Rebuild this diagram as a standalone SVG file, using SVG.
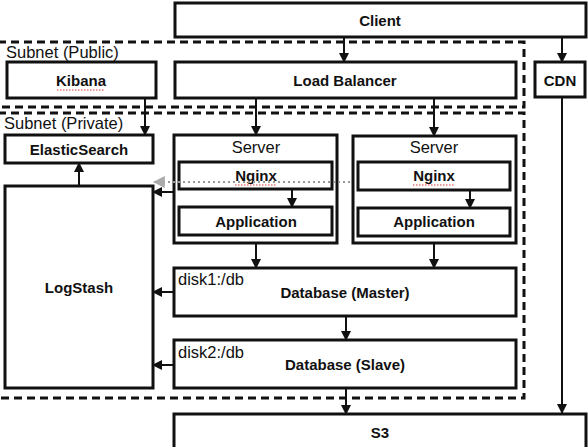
<svg xmlns="http://www.w3.org/2000/svg" width="588" height="447" viewBox="0 0 588 447">
<style>
.box{fill:#fff;stroke:#111;stroke-width:3}
.sub{fill:none;stroke:#111;stroke-width:3;stroke-dasharray:8 5}
.t{font-family:"Liberation Sans",Arial,sans-serif;font-size:15px;font-weight:bold;fill:#111;text-anchor:middle}
.r{font-family:"Liberation Sans",Arial,sans-serif;font-size:16.5px;fill:#111}
.c{stroke:#111;stroke-width:2;fill:none;marker-end:url(#ah)}
.sq{stroke:#d33;stroke-width:1.2;stroke-dasharray:1.5 1.5;fill:none}
</style>
<defs>
<marker id="ah" viewBox="0 0 10 10" refX="9" refY="5" markerWidth="5" markerHeight="5" orient="auto" markerUnits="strokeWidth"><path d="M0,0 L10,5 L0,10 z" fill="#111"/></marker>
<marker id="ahg" viewBox="0 0 10 10" refX="9" refY="5" markerWidth="6" markerHeight="6" orient="auto" markerUnits="strokeWidth"><path d="M0,0 L10,5 L0,10 z" fill="#aaa"/></marker>
</defs>
<rect width="588" height="447" fill="#fff"/>
<g id="subnet-public">
<rect class="sub" x="-2" y="42" width="526" height="65"/>
<text class="r" x="6" y="58">Subnet (Public)</text>
</g>
<g id="subnet-private">
<rect class="sub" x="-2" y="113" width="526" height="285"/>
<text class="r" x="4" y="129">Subnet (Private)</text>
</g>
<g id="client"><rect class="box" x="175" y="3" width="411" height="34"/><text class="t" x="380" y="26">Client</text></g>
<g id="kibana"><rect class="box" x="7" y="62" width="149" height="36"/><text class="t" x="81" y="86">Kibana</text><path class="sq" d="M57,90 H105"/></g>
<g id="load-balancer"><rect class="box" x="175" y="62" width="341" height="36"/><text class="t" x="345" y="86">Load Balancer</text></g>
<g id="cdn"><rect class="box" x="535" y="62" width="50" height="35"/><text class="t" x="560" y="86">CDN</text></g>
<g id="elasticsearch"><rect class="box" x="5" y="135" width="148" height="28"/><text class="t" x="79" y="155">ElasticSearch</text></g>
<g id="logstash"><rect class="box" x="5" y="186" width="148" height="202"/><text class="t" x="79" y="293">LogStash</text></g>
<g id="server1">
<rect class="box" x="174" y="135" width="163" height="108"/>
<text class="r" x="256" y="153" text-anchor="middle">Server</text>
<rect class="box" x="179" y="162" width="153" height="27"/><text class="t" x="256" y="181">Nginx</text><path class="sq" d="M235,185 H277"/>
<rect class="box" x="179" y="207" width="153" height="28"/><text class="t" x="256" y="227">Application</text>
</g>
<g id="server2">
<rect class="box" x="353" y="136" width="163" height="107"/>
<text class="r" x="434" y="153" text-anchor="middle">Server</text>
<rect class="box" x="358" y="162" width="152" height="28"/><text class="t" x="434" y="181">Nginx</text><path class="sq" d="M413,185 H455"/>
<rect class="box" x="358" y="208" width="152" height="28"/><text class="t" x="434" y="227">Application</text>
</g>
<g id="db-master"><rect class="box" x="174" y="268" width="342" height="48"/><text class="r" x="178" y="285">disk1:/db</text><text class="t" x="345" y="298">Database (Master)</text></g>
<g id="db-slave"><rect class="box" x="174" y="340" width="342" height="48"/><text class="r" x="178" y="358">disk2:/db</text><text class="t" x="345" y="370">Database (Slave)</text></g>
<g id="s3"><rect class="box" x="174" y="414" width="412" height="40"/><text class="t" x="380" y="438">S3</text></g>
<g id="connectors">
<path class="c" d="M344,37 V62"/>
<path class="c" d="M562,37 V62"/>
<path class="c" d="M562,97 V413"/>
<path class="c" d="M145,98 V135"/>
<path class="c" d="M256,98 V135"/>
<path class="c" d="M434,98 V136"/>
<path class="c" d="M79,186 V163"/>
<path class="c" d="M292,189 V207"/>
<path class="c" d="M470,190 V208"/>
<path class="c" d="M174,192 H153"/>
<path d="M350,182 H154" stroke="#999" stroke-width="2" stroke-dasharray="2 3" fill="none" marker-end="url(#ahg)"/>
<path class="c" d="M256,243 V268"/>
<path class="c" d="M434,243 V268"/>
<path class="c" d="M174,292 H153"/>
<path class="c" d="M346,316 V340"/>
<path class="c" d="M174,365 H153"/>
<path class="c" d="M346,388 V414"/>
</g>
</svg>
